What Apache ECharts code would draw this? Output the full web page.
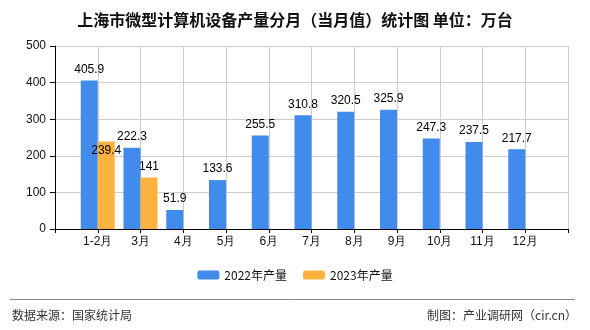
<!DOCTYPE html>
<html><head><meta charset="utf-8">
<script src="https://cdn.jsdelivr.net/npm/echarts@6/dist/echarts.min.js"></script>
<style>html,body{margin:0;padding:0;background:#fff}#c{width:590px;height:330px}</style>
</head><body><div id="c"></div>
<script>
var categories = ['1-2月','3月','4月','5月','6月','7月','8月','9月','10月','11月','12月'];
var values2022 = [405.9, 222.3, 51.9, 133.6, 255.5, 310.8, 320.5, 325.9, 247.3, 237.5, 217.7];
var values2023 = [239.4, 141, null, null, null, null, null, null, null, null, null];
var yTicks = [0, 100, 200, 300, 400, 500];
var seriesNames = ['2022年产量', '2023年产量'];

var chart = echarts.init(document.getElementById('c'));
var FONT = '"Liberation Sans", Arial, sans-serif';
var xData = [''].concat(categories).concat(['']);
function pad(arr){ return [null].concat(arr).concat([null]); }
var d2023 = pad(values2023).map(function(v, i){
  if (i === 1) return {value: v, label: {position: 'insideTop', distance: 3}};
  return v;
});
chart.setOption({
  animation: false,
  title: {
    text: '上海市微型计算机设备产量分月（当月值）统计图 单位：万台',
    left: 'center', top: 7,
    textStyle: {fontSize: 16, fontWeight: 'bold', color: '#111', fontFamily: '"Noto Sans CJK SC", sans-serif'}
  },
  legend: {
    data: seriesNames, bottom: 44, left: 'center',
    itemWidth: 22, itemHeight: 9, itemGap: 16,
    textStyle: {fontSize: 12, color: '#111', fontFamily: '"Noto Sans CJK SC", sans-serif'}
  },
  grid: {left: 55, right: 22, top: 46, bottom: 101},
  xAxis: {
    type: 'category', data: xData, boundaryGap: false,
    axisLine: {lineStyle: {color: '#000'}},
    axisTick: {length: 4, interval: 0, lineStyle: {color: '#000'}},
    axisLabel: {interval: 0, color: '#111', fontSize: 12, margin: 7, fontFamily: FONT},
    splitLine: {show: true, interval: 0, lineStyle: {color: '#cccccc'}}
  },
  yAxis: {
    type: 'value', min: yTicks[0], max: yTicks[yTicks.length-1], interval: 100,
    axisLine: {show: true, lineStyle: {color: '#000'}},
    axisTick: {show: true, length: 5, lineStyle: {color: '#000'}},
    axisLabel: {color: '#111', fontSize: 12, margin: 9, fontFamily: FONT},
    splitLine: {lineStyle: {color: '#cccccc'}}
  },
  series: [
    {name: seriesNames[0], type: 'bar', data: pad(values2022), barWidth: 17, barGap: 0,
     itemStyle: {color: '#418bec'},
     label: {show: true, position: 'top', distance: 5, color: '#000', fontSize: 12, fontFamily: FONT}},
    {name: seriesNames[1], type: 'bar', data: d2023, barWidth: 17, barGap: 0,
     itemStyle: {color: '#fdb240'},
     label: {show: true, position: 'top', distance: 5, color: '#000', fontSize: 12, fontFamily: FONT}}
  ],
  graphic: [
    {type: 'line', shape: {x1: 10, y1: 299.5, x2: 575, y2: 299.5}, style: {stroke: '#888', lineWidth: 1}},
    {type: 'text', left: 12, top: 309, style: {text: '数据来源：国家统计局', fontSize: 12, fill: '#333', fontFamily: '"Noto Sans CJK SC", sans-serif'}},
    {type: 'text', right: 13, top: 309, style: {text: '制图：产业调研网（cir.cn）', fontSize: 12, fill: '#333', fontFamily: '"Noto Sans CJK SC", sans-serif'}}
  ]
});
</script></body></html>
